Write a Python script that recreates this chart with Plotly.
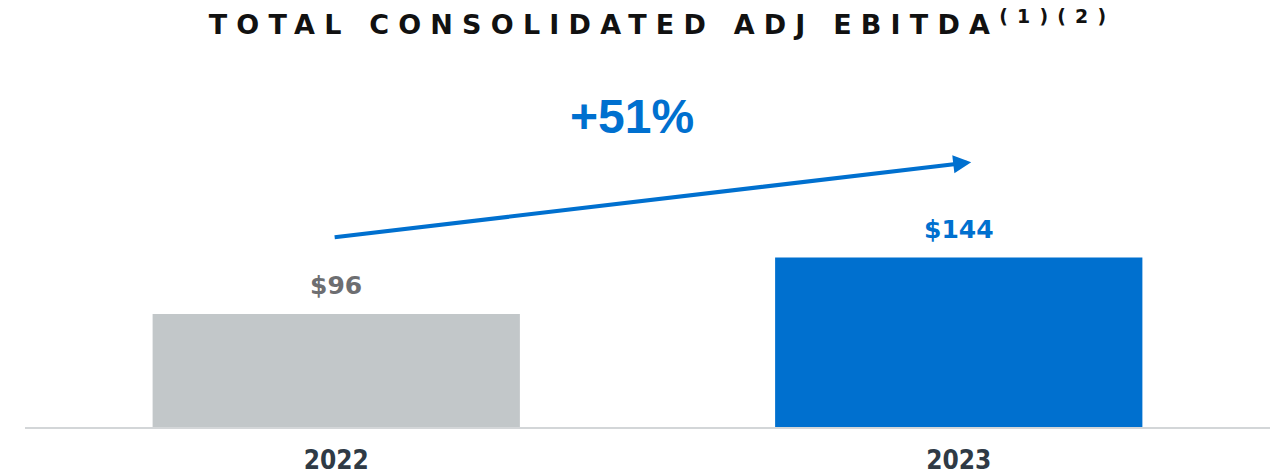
import plotly.graph_objects as go

years = ["2022", "2023"]
values = [96, 144]
bar_colors = ["#C2C7C9", "#0070CF"]
label_colors = ["#6D6E71", "#0070CF"]
value_labels = ["&#36;96", "&#36;144"]
growth_label = "+51%"
title_text = "TOTAL CONSOLIDATED ADJ EBITDA<sup>(1)(2)</sup>"

FONT = "Liberation Sans, Arial, sans-serif"
HEAVY = "DejaVu Sans, sans-serif"
COND = "DejaVu Sans Condensed, DejaVu Sans, sans-serif"

fig = go.Figure()
fig.add_trace(go.Bar(
    x=years, y=values, marker=dict(color=bar_colors, line=dict(width=0)),
    width=0.59, hoverinfo="skip", showlegend=False,
))

for i, (v, lab, col) in enumerate(zip(values, value_labels, label_colors)):
    fig.add_annotation(x=i, y=v, xref="x", yref="y", text=f"<b>{lab}</b>", showarrow=False,
                       yanchor="bottom", yshift=12,
                       font=dict(family=HEAVY, size=25, color=col))

# growth arrow
fig.add_annotation(x=1.02, y=225, ax=-0.005, ay=161, xref="x", yref="y",
                   axref="x", ayref="y", text="", showarrow=True,
                   arrowhead=2, arrowsize=0.9, arrowwidth=4, arrowcolor="#0070CF")
fig.add_annotation(xref="paper", yref="paper", x=(632 - 25) / 1245, y=(427 - 117) / 367,
                   text=f"<b>{growth_label}</b>", showarrow=False,
                   xanchor="center", yanchor="middle",
                   font=dict(family=FONT, size=48, color="#0070CF"))

fig.update_layout(
    width=1286, height=475,
    margin=dict(l=25, r=16, t=60, b=48),
    paper_bgcolor="white", plot_bgcolor="white",
    title=dict(text=f"<b>{title_text}</b>", x=662 / 1286, xanchor="center",
               xref="container", y=1 - 25 / 475, yanchor="middle", yref="container",
               font=dict(family=HEAVY, size=27, color="#111111")),
    xaxis=dict(type="category", showline=True, linecolor="#D3D6D8", linewidth=2,
               showgrid=False, ticks="", ticklabelstandoff=9, range=[-0.5, 1.5],
               automargin=False,
               tickfont=dict(family=COND, size=26, color="#2F3A45", weight="bold")),
    yaxis=dict(visible=False, range=[0, 311.8], showgrid=False, zeroline=False,
               automargin=False),
)

post = """
document.body.style.margin='0';
document.documentElement.style.overflow='hidden';
var t=document.querySelector('.gtitle');
if(t){t.style.letterSpacing='9.2px';}
"""
fig.write_html("out.html", post_script=post, config={"displayModeBar": False})
